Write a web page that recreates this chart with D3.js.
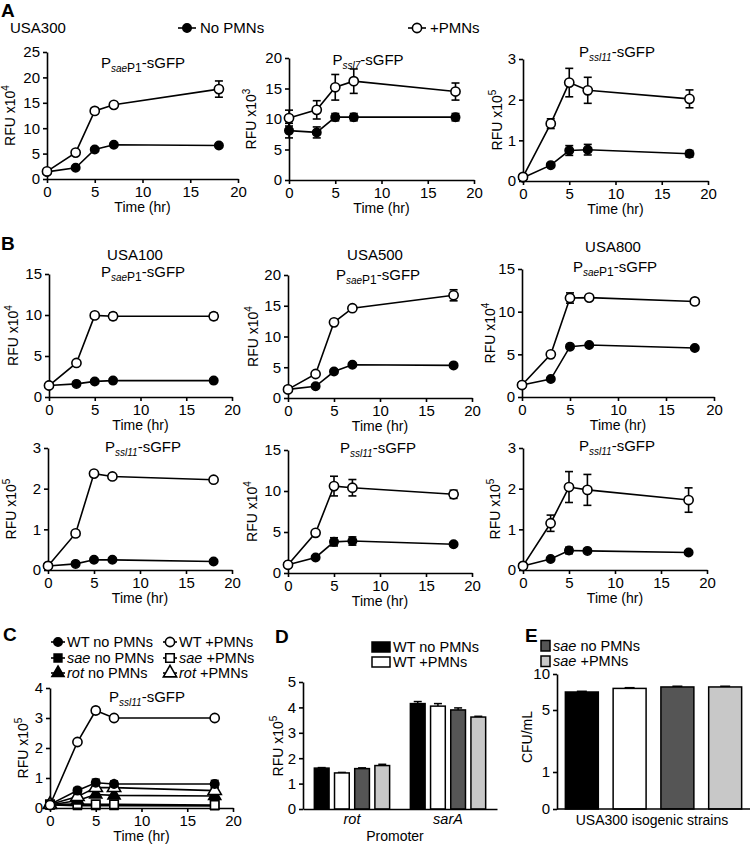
<!DOCTYPE html>
<html><head><meta charset="utf-8">
<script src="https://cdnjs.cloudflare.com/ajax/libs/d3/7.8.5/d3.min.js"></script>
<style>
body{margin:0;background:#fff}
text{font-family:"Liberation Sans",Arial,Helvetica,sans-serif;fill:#000}
</style>
</head><body>
<svg id="c" width="750" height="844"></svg>
<script>
// ---------- DATA ----------
const timeHr = [0, 3, 5, 7, 18];
const xTicks = [0, 5, 10, 15, 20];

// Panel A (USA300)
const a1NoPMN = [1.4, 2.2, 5.8, 6.75, 6.6];
const a1NoPMNErr = [0.2, 0.2, 0.3, 0.3, 0.3];
const a1PMN = [1.5, 5.2, 13.4, 14.6, 17.7];
const a1PMNErr = [0.2, 0.4, 0.5, 0.4, 1.6];
const a2NoPMN = [8.1, 7.8, 10.3, 10.3, 10.3];
const a2NoPMNErr = [1.2, 0.9, 0.6, 0.6, 0.6];
const a2PMN = [10.15, 11.5, 15.2, 16.2, 14.5];
const a2PMNErr = [1.3, 1.5, 2.1, 2.0, 1.4];
const a3NoPMN = [0.08, 0.39, 0.75, 0.77, 0.67];
const a3NoPMNErr = [0.02, 0.03, 0.12, 0.13, 0.08];
const a3PMN = [0.1, 1.41, 2.42, 2.23, 2.02];
const a3PMNErr = [0.03, 0.12, 0.35, 0.32, 0.22];

// Panel B
const b1NoPMN = [1.4, 1.6, 1.9, 2.0, 2.0];
const b1NoPMNErr = [0.1, 0.1, 0.1, 0.1, 0.1];
const b1PMN = [1.4, 4.15, 9.95, 9.85, 9.85];
const b1PMNErr = [0.1, 0.2, 0.3, 0.4, 0.4];
const b2NoPMN = [1.4, 1.9, 4.3, 5.4, 5.3];
const b2NoPMNErr = [0.1, 0.1, 0.2, 0.2, 0.2];
const b2PMN = [1.4, 3.9, 12.3, 14.6, 16.7];
const b2PMNErr = [0.1, 0.2, 0.3, 0.3, 0.9];
const b3NoPMN = [1.4, 2.1, 5.9, 6.1, 5.75];
const b3NoPMNErr = [0.1, 0.1, 0.2, 0.2, 0.2];
const b3PMN = [1.4, 5.0, 11.6, 11.65, 11.2];
const b3PMNErr = [0.1, 0.2, 0.6, 0.3, 0.3];
const b4NoPMN = [0.1, 0.15, 0.25, 0.25, 0.21];
const b4NoPMNErr = [0.01, 0.01, 0.01, 0.01, 0.01];
const b4PMN = [0.1, 0.9, 2.37, 2.3, 2.22];
const b4PMNErr = [0.01, 0.03, 0.03, 0.03, 0.03];
const b5NoPMN = [1.0, 1.9, 3.8, 3.9, 3.5];
const b5NoPMNErr = [0.1, 0.2, 0.5, 0.5, 0.2];
const b5PMN = [1.0, 4.9, 10.6, 10.4, 9.6];
const b5PMNErr = [0.1, 0.2, 1.2, 1.0, 0.5];
const b6NoPMN = [0.1, 0.27, 0.48, 0.47, 0.43];
const b6NoPMNErr = [0.02, 0.03, 0.08, 0.03, 0.03];
const b6PMN = [0.1, 1.15, 2.04, 1.97, 1.72];
const b6PMNErr = [0.03, 0.2, 0.38, 0.38, 0.3];

// Panel C (USA300 isogenic, P ssl11-sGFP)
const cWTNo = [0.12, 0.58, 0.84, 0.8, 0.8];
const cWTNoErr = [0.03, 0.1, 0.12, 0.1, 0.12];
const cSaeNo = [0.1, 0.08, 0.08, 0.08, 0.07];
const cSaeNoErr = [0.02, 0.02, 0.02, 0.02, 0.02];
const cRotNo = [0.1, 0.25, 0.45, 0.42, 0.4];
const cRotNoErr = [0.02, 0.05, 0.05, 0.05, 0.05];
const cWTPMN = [0.1, 2.2, 3.25, 3.0, 3.0];
const cWTPMNErr = [0.02, 0.05, 0.1, 0.05, 0.05];
const cSaePMN = [0.12, 0.13, 0.12, 0.12, 0.1];
const cSaePMNErr = [0.02, 0.02, 0.02, 0.02, 0.02];
const cRotPMN = [0.12, 0.38, 0.68, 0.68, 0.58];
const cRotPMNErr = [0.03, 0.1, 0.1, 0.1, 0.1];

// Panel D
const dPromoters = ["rot", "sarA"];
const dGroups = ["WT no PMNs", "WT +PMNs", "sae no PMNs", "sae +PMNs"];
const dRot = [1.61, 1.42, 1.59, 1.71];
const dRotErr = [0.02, 0.02, 0.03, 0.05];
const dSarA = [4.15, 4.05, 3.9, 3.62];
const dSarAErr = [0.08, 0.1, 0.08, 0.03];
const dYTicks = [0, 1, 2, 3, 4, 5];

// Panel E
const eStrains = ["WT no PMNs", "WT +PMNs", "sae no PMNs", "sae +PMNs"];
const eCFU = [7.5, 8.0, 8.2, 8.2];
const eCFUErr = [0.1, 0.1, 0.1, 0.1];
const eYTicks = [0, 1, 5, 10];

const barFills = ["#000000", "#ffffff", "#555555", "#c8c8c8"];

// ---------- DRAWING ----------
const svg = d3.select("#c");
const FONT_TICK = 15, FONT_LBL = 14;
const fmt = d3.format("~g");

function styleAxis(g) {
  g.select(".domain").attr("stroke", "#000").attr("stroke-width", 1.6);
  g.selectAll(".tick line").attr("stroke", "#000").attr("stroke-width", 1.6);
  g.selectAll(".tick text").attr("font-size", FONT_TICK).attr("fill", "#000")
    .attr("font-family", '"Liberation Sans",Arial,sans-serif');
}

function yLabel(g, x, y, exp, text) {
  const t = g.append("text").attr("transform", `translate(${x},${y}) rotate(-90)`)
    .attr("text-anchor", "middle").attr("font-size", FONT_LBL);
  if (text) { t.text(text); return; }
  t.append("tspan").text("RFU x10");
  t.append("tspan").text(exp).attr("font-size", 10).attr("dy", -6);
}

function promoterTitle(g, x, y, sub, sub2) {
  const t = g.append("text").attr("x", x).attr("y", y).attr("text-anchor", "middle").attr("font-size", 15);
  t.append("tspan").text("P");
  t.append("tspan").text(sub).attr("font-size", 10).attr("font-style", "italic").attr("dy", 4);
  if (sub2) { t.append("tspan").text(sub2).attr("font-size", 12).attr("dy", 0); }
  t.append("tspan").text("-sGFP").attr("dy", -4);
}

function marker(g, type, cx, cy, size) {
  const open = type.startsWith("open");
  const shape = type.replace("open", "").replace("fill", "");
  const sym = { Circle: d3.symbolCircle, Square: d3.symbolSquare, Triangle: d3.symbolTriangle }[shape];
  const area = { Circle: size * size * Math.PI, Square: size * size * 3.4, Triangle: size * size * 3.6 }[shape];
  g.append("path").attr("d", d3.symbol().type(sym).size(area)())
    .attr("transform", `translate(${cx},${cy})`)
    .attr("fill", open ? "#fff" : "#000").attr("stroke", "#000").attr("stroke-width", 1.6);
}

function linePanel(cfg) {
  const g = svg.append("g");
  const x = d3.scaleLinear().domain([0, 20]).range([cfg.x0, cfg.x1]);
  const y = d3.scaleLinear().domain([0, cfg.yMax]).range([cfg.y0, cfg.y1]);
  const xa = g.append("g").attr("transform", `translate(0,${cfg.y0})`)
    .call(d3.axisBottom(x).tickValues(xTicks).tickFormat(fmt).tickSize(4).tickPadding(3).tickSizeOuter(0));
  styleAxis(xa);
  const ya = g.append("g").attr("transform", `translate(${cfg.x0},0)`)
    .call(d3.axisLeft(y).tickValues(cfg.yTicks).tickFormat(fmt).tickSize(4).tickPadding(3).tickSizeOuter(0));
  styleAxis(ya);
  g.append("text").attr("x", (cfg.x0 + cfg.x1) / 2).attr("y", cfg.y0 + 33)
    .attr("text-anchor", "middle").attr("font-size", FONT_LBL).text("Time (hr)");
  yLabel(g, cfg.labelX, (cfg.y0 + cfg.y1) / 2, cfg.exp);
  promoterTitle(g, cfg.titleX, cfg.titleY, cfg.sub, cfg.sub2);
  const line = d3.line().x((d, i) => x(timeHr[i])).y(d => y(d));
  cfg.series.forEach(s => {
    g.append("path").attr("d", line(s.v)).attr("fill", "none").attr("stroke", "#000").attr("stroke-width", 1.6);
  });
  cfg.series.forEach(s => {
    s.v.forEach((v, i) => {
      const e = s.e[i], cx = x(timeHr[i]);
      const yt = y(v + e), yb = y(Math.max(0, v - e));
      if (Math.abs(yb - yt) > 4) {
        g.append("line").attr("x1", cx).attr("x2", cx).attr("y1", yt).attr("y2", yb).attr("stroke", "#000").attr("stroke-width", 1.6);
        [yt, yb].forEach(yy => g.append("line").attr("x1", cx - 4).attr("x2", cx + 4).attr("y1", yy).attr("y2", yy).attr("stroke", "#000").attr("stroke-width", 1.6));
      }
    });
  });
  cfg.series.forEach(s => {
    s.v.forEach((v, i) => marker(g, s.m, x(timeHr[i]), y(v), s.m.startsWith("open") ? 4.6 : 4.2));
  });
  return g;
}

function pmnSeries(no, noE, pm, pmE) {
  return [{ v: no, e: noE, m: "fillCircle" }, { v: pm, e: pmE, m: "openCircle" }];
}

// Panel letters
[["A", 1, 17], ["B", 1, 250], ["C", 3, 641], ["D", 275, 643], ["E", 525, 642]].forEach(([t, x, y]) =>
  svg.append("text").attr("x", x).attr("y", y).attr("font-size", 19).attr("font-weight", "bold").text(t));

// Panel A header
svg.append("text").attr("x", 10).attr("y", 33).attr("font-size", 15).text("USA300");
function legendItem(x, y, type, label) {
  svg.append("line").attr("x1", x - 9).attr("x2", x + 9).attr("y1", y).attr("y2", y).attr("stroke", "#000").attr("stroke-width", 1.6);
  marker(svg, type, x, y, type.startsWith("open") ? 4.6 : 4.2);
  svg.append("text").attr("x", x + 13).attr("y", y + 5).attr("font-size", 15).text(label);
}
legendItem(187, 28, "fillCircle", "No PMNs");
legendItem(417, 28, "openCircle", "+PMNs");

const yt25 = [0, 5, 10, 15, 20, 25], yt20 = [0, 5, 10, 15, 20], yt15 = [0, 5, 10, 15], yt3 = [0, 1, 2, 3];

linePanel({ x0: 47, x1: 238, y0: 179, y1: 52, yMax: 25, yTicks: yt25, exp: "4", labelX: 15, titleX: 143, titleY: 68, sub: "sae", sub2: "P1", series: pmnSeries(a1NoPMN, a1NoPMNErr, a1PMN, a1PMNErr) });
linePanel({ x0: 289, x1: 474, y0: 180, y1: 58, yMax: 20, yTicks: yt20, exp: "3", labelX: 256, titleX: 368, titleY: 65, sub: "ssl7", series: pmnSeries(a2NoPMN, a2NoPMNErr, a2PMN, a2PMNErr) });
linePanel({ x0: 523, x1: 708, y0: 181, y1: 59, yMax: 3, yTicks: yt3, exp: "5", labelX: 502, titleX: 617, titleY: 57, sub: "ssl11", series: pmnSeries(a3NoPMN, a3NoPMNErr, a3PMN, a3PMNErr) });

// Panel B
[["USA100", 135, 260], ["USA500", 375, 260], ["USA800", 613, 252]].forEach(([t, x, y]) =>
  svg.append("text").attr("x", x).attr("y", y).attr("text-anchor", "middle").attr("font-size", 15).text(t));
linePanel({ x0: 49, x1: 232, y0: 397, y1: 274, yMax: 15, yTicks: yt15, exp: "4", labelX: 18, titleX: 143, titleY: 277, sub: "sae", sub2: "P1", series: pmnSeries(b1NoPMN, b1NoPMNErr, b1PMN, b1PMNErr) });
linePanel({ x0: 288, x1: 472, y0: 398, y1: 275, yMax: 20, yTicks: yt20, exp: "4", labelX: 258, titleX: 378, titleY: 280, sub: "sae", sub2: "P1", series: pmnSeries(b2NoPMN, b2NoPMNErr, b2PMN, b2PMNErr) });
linePanel({ x0: 522, x1: 714, y0: 397, y1: 269, yMax: 15, yTicks: yt15, exp: "4", labelX: 495, titleX: 615, titleY: 272, sub: "sae", sub2: "P1", series: pmnSeries(b3NoPMN, b3NoPMNErr, b3PMN, b3PMNErr) });
linePanel({ x0: 48, x1: 232, y0: 570, y1: 448, yMax: 3, yTicks: yt3, exp: "5", labelX: 16, titleX: 143, titleY: 452, sub: "ssl11", series: pmnSeries(b4NoPMN, b4NoPMNErr, b4PMN, b4PMNErr) });
linePanel({ x0: 288, x1: 472, y0: 573, y1: 450, yMax: 15, yTicks: yt15, exp: "4", labelX: 257, titleX: 378, titleY: 453, sub: "ssl11", series: pmnSeries(b5NoPMN, b5NoPMNErr, b5PMN, b5PMNErr) });
linePanel({ x0: 523, x1: 707, y0: 570, y1: 448, yMax: 3, yTicks: yt3, exp: "5", labelX: 500, titleX: 617, titleY: 451, sub: "ssl11", series: pmnSeries(b6NoPMN, b6NoPMNErr, b6PMN, b6PMNErr) });

// Panel C
linePanel({ x0: 50, x1: 233, y0: 808, y1: 688, yMax: 4, yTicks: [0, 1, 2, 3, 4], exp: "5", labelX: 28, titleX: 147, titleY: 702, sub: "ssl11",
  series: [
    { v: cSaeNo, e: cSaeNoErr, m: "fillSquare" },
    { v: cSaePMN, e: cSaePMNErr, m: "openSquare" },
    { v: cRotNo, e: cRotNoErr, m: "fillTriangle" },
    { v: cRotPMN, e: cRotPMNErr, m: "openTriangle" },
    { v: cWTNo, e: cWTNoErr, m: "fillCircle" },
    { v: cWTPMN, e: cWTPMNErr, m: "openCircle" }
  ] });
function cLegend(x, y, type, strain, rest, italic) {
  svg.append("line").attr("x1", x - 7).attr("x2", x + 7).attr("y1", y).attr("y2", y).attr("stroke", "#000").attr("stroke-width", 1.6);
  marker(svg, type, x, y, type.startsWith("open") ? 4.6 : 4.2);
  const t = svg.append("text").attr("x", x + 9).attr("y", y + 5).attr("font-size", 14.5);
  t.append("tspan").text(strain).attr("font-style", italic ? "italic" : "normal");
  t.append("tspan").text(rest);
}
cLegend(58, 642, "fillCircle", "WT", " no PMNs", false);
cLegend(58, 658, "fillSquare", "sae", " no PMNs", true);
cLegend(58, 673, "fillTriangle", "rot", " no PMNs", true);
cLegend(170, 642, "openCircle", "WT", " +PMNs", false);
cLegend(170, 658, "openSquare", "sae", " +PMNs", true);
cLegend(170, 673, "openTriangle", "rot", " +PMNs", true);

// Panel D
(function () {
  const g = svg.append("g");
  const x0 = d3.scaleBand().domain(dPromoters).range([303, 497]).paddingInner(0.216).paddingOuter(0.118);
  const x1 = d3.scaleBand().domain(dGroups).range([0, x0.bandwidth()]).paddingInner(0.27);
  const y = d3.scaleLinear().domain([0, 5]).range([809, 682]);
  const vals = { rot: dRot, sarA: dSarA }, errs = { rot: dRotErr, sarA: dSarAErr };
  dPromoters.forEach(p => {
    dGroups.forEach((s, i) => {
      const bx = x0(p) + x1(s), v = vals[p][i], e = errs[p][i];
      const cx = bx + x1.bandwidth() / 2;
      g.append("line").attr("x1", cx).attr("x2", cx).attr("y1", y(v)).attr("y2", y(v + e)).attr("stroke", "#000").attr("stroke-width", 1.5);
      g.append("line").attr("x1", cx - 4).attr("x2", cx + 4).attr("y1", y(v + e)).attr("y2", y(v + e)).attr("stroke", "#000").attr("stroke-width", 1.5);
      g.append("rect").attr("x", bx).attr("y", y(v)).attr("width", x1.bandwidth()).attr("height", y(0) - y(v))
        .attr("fill", barFills[i]).attr("stroke", "#000").attr("stroke-width", 1.5);
    });
  });
  const ya = g.append("g").attr("transform", "translate(303,0)").call(d3.axisLeft(y).tickValues(dYTicks).tickFormat(fmt).tickSize(4).tickPadding(3).tickSizeOuter(0));
  styleAxis(ya);
  const xa = g.append("g").attr("transform", "translate(0,809)").call(d3.axisBottom(x0).tickSize(0).tickPadding(5).tickSizeOuter(0));
  styleAxis(xa);
  xa.selectAll(".tick text").attr("font-style", "italic").attr("font-size", 14.5);
  g.append("text").attr("x", 395).attr("y", 841).attr("text-anchor", "middle").attr("font-size", FONT_LBL).text("Promoter");
  yLabel(g, 283, 746, "5");
  [[647, "WT no PMNs", 0], [662, "WT +PMNs", 1]].forEach(([yy, t, i]) => {
    g.append("rect").attr("x", 372).attr("y", yy - 5).attr("width", 18).attr("height", 10).attr("fill", barFills[i]).attr("stroke", "#000").attr("stroke-width", 1.5);
    g.append("text").attr("x", 393).attr("y", yy + 5).attr("font-size", 14.5).text(t);
  });
})();

// Panel E
(function () {
  const g = svg.append("g");
  const x = d3.scaleBand().domain(eStrains).range([557, 750]).paddingInner(0.31).paddingOuter(0.175);
  const y = d3.scaleLinear().domain([0, 1, 5, 10]).range([809, 772, 710, 674]);
  eStrains.forEach((s, i) => {
    const bx = x(s), v = eCFU[i], e = eCFUErr[i], cx = bx + x.bandwidth() / 2;
    g.append("line").attr("x1", cx).attr("x2", cx).attr("y1", y(v)).attr("y2", y(v + e)).attr("stroke", "#000").attr("stroke-width", 1.5);
    g.append("line").attr("x1", cx - 5).attr("x2", cx + 5).attr("y1", y(v + e)).attr("y2", y(v + e)).attr("stroke", "#000").attr("stroke-width", 1.5);
    g.append("rect").attr("x", bx).attr("y", y(v)).attr("width", x.bandwidth()).attr("height", y(0) - y(v))
      .attr("fill", barFills[i]).attr("stroke", "#000").attr("stroke-width", 1.5);
  });
  const ya = g.append("g").attr("transform", "translate(557,0)").call(d3.axisLeft(y).tickValues(eYTicks).tickFormat(fmt).tickSize(4).tickPadding(3).tickSizeOuter(0));
  styleAxis(ya);
  g.append("line").attr("x1", 557).attr("x2", 750).attr("y1", 809).attr("y2", 809).attr("stroke", "#000").attr("stroke-width", 1.6);
  g.append("text").attr("x", 652).attr("y", 825).attr("text-anchor", "middle").attr("font-size", FONT_LBL).text("USA300 isogenic strains");
  yLabel(g, 532, 737, null, "CFU/mL");
  [[645.5, 2], [661, 3]].forEach(([yy, i]) => {
    g.append("rect").attr("x", 541).attr("y", yy - 5).attr("width", 9).attr("height", 10.5).attr("fill", barFills[i]).attr("stroke", "#000").attr("stroke-width", 1.5);
    const t = g.append("text").attr("x", 553).attr("y", yy + 5).attr("font-size", 14.5);
    t.append("tspan").text("sae").attr("font-style", "italic");
    t.append("tspan").text(i === 2 ? " no PMNs" : " +PMNs");
  });
})();
</script>
</body></html>
